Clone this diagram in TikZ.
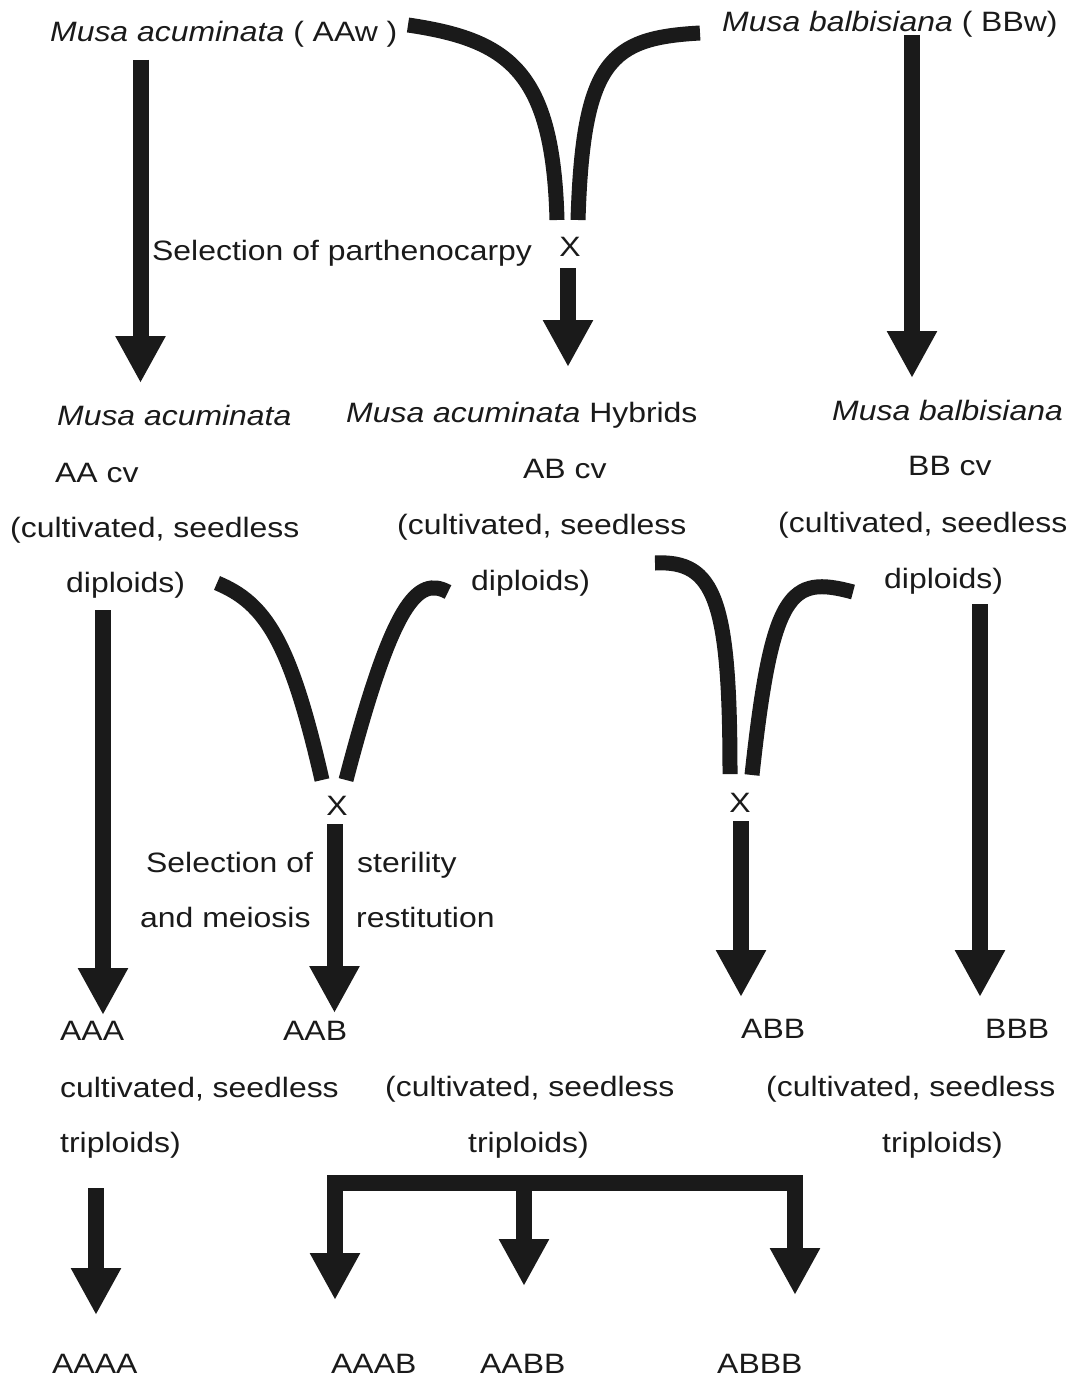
\documentclass[tikz,border=0pt]{standalone}
\usepackage{fontspec}
\setmainfont{Liberation Sans}[FakeStretch=1.14]
\usetikzlibrary{arrows.meta}
\definecolor{ink}{HTML}{1A1A1A}
\begin{document}
\begin{tikzpicture}[x=1pt,y=-1pt,
  lbl/.style={inner sep=0pt, anchor=base west, text=ink, font=\fontsize{28pt}{34pt}\selectfont},
  cross/.style={inner sep=0pt, anchor=base, text=ink, font=\fontsize{28pt}{34pt}\selectfont},
  fatarrow/.style={draw=ink, line width=16pt, -{Triangle[width=47pt,length=47pt]}},
  bar/.style={draw=ink, line width=16pt},
  branch/.style={draw=ink, line width=15pt, line cap=butt}]
\path[use as bounding box, fill=white] (0,0) rectangle (1073,1380);

% ---- top row
\node[lbl] (acw) at (50,42) {\textit{Musa acuminata} ( AAw )};
\node[lbl] (bbw) at (722,32) {\textit{Musa balbisiana} ( BBw)};
\node[lbl] (selp) at (152,260) {Selection of parthenocarpy};
\node[cross] (x1) at (570,257) {X};

% ---- second row
\node[lbl] (ma) at (57,425) {\textit{Musa acuminata}};
\node[lbl] (aacv) at (55,482) {AA cv};
\node[lbl] (aac) at (10,537) {(cultivated, seedless};
\node[lbl] (aad) at (66,592) {diploids)};

\node[lbl] (mh) at (346,422) {\textit{Musa acuminata} Hybrids};
\node[lbl] (abcv) at (523,478) {AB cv};
\node[lbl] (abc) at (397,534) {(cultivated, seedless};
\node[lbl] (abd) at (471,590) {diploids)};

\node[lbl] (mb) at (832,420) {\textit{Musa balbisiana}};
\node[lbl] (bbcv) at (908,475) {BB cv};
\node[lbl] (bbc) at (778,532) {(cultivated, seedless};
\node[lbl] (bbd) at (884,588) {diploids)};

\node[cross] (x2) at (337,815) {X};
\node[cross] (x3) at (740,812) {X};

\node[lbl] (sel2a) at (146,872) {Selection of};
\node[lbl] (sel2b) at (357,872) {sterility};
\node[lbl] (sel2c) at (140,927) {and meiosis};
\node[lbl] (sel2d) at (356,927) {restitution};

% ---- third row
\node[lbl] (aaa) at (60,1040) {AAA};
\node[lbl] (aab) at (283,1040) {AAB};
\node[lbl] (abb) at (741,1038) {ABB};
\node[lbl] (bbb) at (985,1038) {BBB};
\node[lbl] (c1) at (60,1097) {cultivated, seedless};
\node[lbl] (c2) at (385,1096) {(cultivated, seedless};
\node[lbl] (c3) at (766,1096) {(cultivated, seedless};
\node[lbl] (t1) at (60,1152) {triploids)};
\node[lbl] (t2) at (468,1152) {triploids)};
\node[lbl] (t3) at (882,1152) {triploids)};

% ---- bottom row
\node[lbl] (aaaa) at (52,1373) {AAAA};
\node[lbl] (aaab) at (331,1373) {AAAB};
\node[lbl] (aabb) at (480,1373) {AABB};
\node[lbl] (abbb) at (717,1373) {ABBB};

% ---- arrow end points
\coordinate (a1s) at (140.5,60);   \coordinate (a1e) at (140.5,383);
\coordinate (a2s) at (568,268);    \coordinate (a2e) at (568,367);
\coordinate (a3s) at (912,35);     \coordinate (a3e) at (912,378);
\coordinate (a4s) at (103,610);    \coordinate (a4e) at (103,1015);
\coordinate (a5s) at (334.5,824);  \coordinate (a5e) at (334.5,1013);
\coordinate (a6s) at (741,821);    \coordinate (a6e) at (741,997);
\coordinate (a7s) at (980,604);    \coordinate (a7e) at (980,997);
\coordinate (a8s) at (96,1188);    \coordinate (a8e) at (96,1315);
\coordinate (brL) at (327,1183);   \coordinate (brR) at (803,1183);
\coordinate (b1s) at (335,1183);   \coordinate (b1e) at (335,1300);
\coordinate (b2s) at (524,1183);   \coordinate (b2e) at (524,1286);
\coordinate (b3s) at (795,1183);   \coordinate (b3e) at (795,1295);

% ---- straight arrows
\draw[fatarrow] (a1s) -- (a1e);
\draw[fatarrow] (a2s) -- (a2e);
\draw[fatarrow] (a3s) -- (a3e);
\draw[fatarrow] (a4s) -- (a4e);
\draw[fatarrow] (a5s) -- (a5e);
\draw[fatarrow] (a6s) -- (a6e);
\draw[fatarrow] (a7s) -- (a7e);
\draw[fatarrow] (a8s) -- (a8e);
\draw[bar] (brL) -- (brR);
\draw[fatarrow] (b1s) -- (b1e);
\draw[fatarrow] (b2s) -- (b2e);
\draw[fatarrow] (b3s) -- (b3e);

% ---- crossing branches
\coordinate (p1s) at (408,25);  \coordinate (p1e) at (557,220);
\coordinate (p2s) at (700,33);  \coordinate (p2e) at (578,220);
\draw[branch] (p1s) .. controls (510,40) and (553,72) .. (p1e);
\draw[branch] (p2s) .. controls (610,38) and (583,60) .. (p2e);

\coordinate (q1s) at (217,583); \coordinate (q1e) at (322,780);
\coordinate (q2s) at (448,592); \coordinate (q2e) at (346,780);
\draw[branch] (q1s) .. controls (265,603) and (290,640) .. (q1e);
\draw[branch] (q2s) .. controls (418,576) and (393,600) .. (q2e);

\coordinate (r1s) at (655,563); \coordinate (r1e) at (730,774);
\coordinate (r2s) at (853,592); \coordinate (r2e) at (752,775);
\draw[branch] (r1s) .. controls (715,560) and (730,600) .. (r1e);
\draw[branch] (r2s) .. controls (790,575) and (772,590) .. (r2e);
\end{tikzpicture}
\end{document}
